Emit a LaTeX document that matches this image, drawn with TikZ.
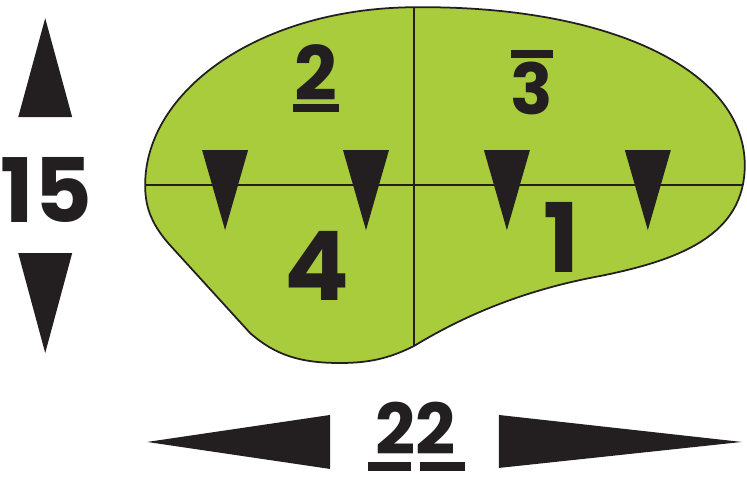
\documentclass[tikz,border=0pt]{standalone}
\usepackage{fontspec}
\setmainfont{Poppins}
\usetikzlibrary{calc}

\definecolor{leaf}{RGB}{168,204,60}
\definecolor{ink}{RGB}{35,31,32}

\newcommand{\fieldoutline}{(Top) .. controls (610,5) and (745,70) .. (745,165)
    .. controls (745,235) and (680,260) .. (600,276)
    .. controls (530,289) and (470,312) .. (Bottom)
    .. controls (390,358) and (370,363) .. (340,363)
    .. controls (300,363) and (275,355) .. (250,333)
    -- (168,243)
    .. controls (150,222) and (145,205) .. (Left)
    .. controls (145,90) and (260,8) .. (Top) -- cycle}

\begin{document}
\begin{tikzpicture}[x=0.03cm, y=-0.03cm]

\draw[white] (0,0) rectangle (747,478);

% Coordinates
\coordinate (Top) at (414,7);
\coordinate (Bottom) at (414,346);
\coordinate (Left) at (145,185);
\coordinate (Right) at (750,185);

% Draws field
\path[fill=leaf] \fieldoutline;
\begin{scope}
    \clip \fieldoutline;
    \draw[ink, line width=1.2pt] (Top) -- (Bottom);
    \draw[ink, line width=1.2pt] (Left) -- (Right);
\end{scope}
\path[draw=ink, line width=1.5pt] \fieldoutline;

% Marks slopes
\foreach \x in {225, 366, 507, 648} {
    \fill[ink] (\x-23,150) -- (\x+23,150) -- (\x,230) -- cycle;
}

% Labels
\node[ink, anchor=base, inner sep=0pt, font=\fontsize{64}{64}\selectfont\bfseries] (two) at (316,100) {2};
\fill[ink] (293,104) rectangle (339,112);
\node[ink, anchor=base, inner sep=0pt, font=\fontsize{60}{60}\selectfont\bfseries] (three) at (532,114) {3};
\fill[ink] (511,50) rectangle (553,58);
\node[ink, anchor=base, inner sep=0pt, font=\fontsize{82}{82}\selectfont\bfseries] (four) at (317,300) {4};
\node[ink, anchor=base, inner sep=0pt, font=\fontsize{82}{82}\selectfont\bfseries] (one) at (562,272) {1};

% Draws height
\node[ink, anchor=base, inner sep=0pt, font=\fontsize{76}{76}\selectfont\bfseries] (height) at (46,222) {15};
\fill[ink] (45,18) -- (72,117) -- (18,117) -- cycle;
\fill[ink] (18,253) -- (72,253) -- (45,353) -- cycle;

% Draws width
\node[ink, anchor=base, inner sep=0pt, font=\fontsize{60}{60}\selectfont\bfseries] (width) at (416,455) {22};
\fill[ink] (368,462) rectangle (411,471);
\fill[ink] (420,462) rectangle (465,471);
\fill[ink] (147,442) -- (330,415) -- (330,469) -- cycle;
\fill[ink] (499,415) -- (742,442) -- (499,468) -- cycle;

\end{tikzpicture}
\end{document}
